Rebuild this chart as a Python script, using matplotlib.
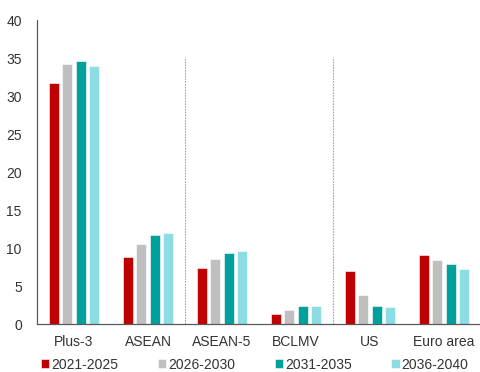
import matplotlib
matplotlib.use('Agg')
import matplotlib.pyplot as plt
import numpy as np

plt.rcParams['font.family'] = ['Liberation Sans', 'DejaVu Sans']

# data
regioes = ['Plus-3', 'ASEAN', 'ASEAN-5', 'BCLMV', 'US', 'Euro area']
periodos = ['2021-2025', '2026-2030', '2031-2035', '2036-2040']
v_2021 = [31.7, 8.8, 7.4, 1.3, 7.0, 9.1]
v_2026 = [34.2, 10.5, 8.5, 1.85, 3.8, 8.4]
v_2031 = [34.6, 11.7, 9.3, 2.35, 2.35, 7.9]
v_2036 = [33.9, 12.0, 9.6, 2.35, 2.2, 7.2]
cores = ['#C00000', '#BFBFBF', '#00A19C', '#8CDCE3']

fig = plt.figure(figsize=(4.81, 3.72), dpi=100)
ax = fig.add_axes([0.077, 0.129, 0.923, 0.817])

x = np.arange(len(regioes))
largura = 0.135
passo = 0.183
series = [v_2021, v_2026, v_2031, v_2036]
for i, (vals, cor, nome) in enumerate(zip(series, cores, periodos)):
    ax.bar(x + (i - 1.5) * passo, vals, width=largura, color=cor,
           edgecolor='white', linewidth=0.4, label=nome, zorder=2)

# separadores
for xs in [1.5, 3.5]:
    ax.plot([xs, xs], [0, 35.2], color='#A6A6A6', linestyle=(0, (1.5, 1)),
            linewidth=0.8, zorder=1)

ax.set_xlim(-0.5, 5.5)
ax.set_ylim(0, 40)
ax.set_yticks(range(0, 41, 5))
ax.set_xticks(x)
ax.set_xticklabels(regioes)
ax.tick_params(axis='both', length=0, labelsize=10, colors='#333333')
ax.tick_params(axis='x', pad=8)
ax.tick_params(axis='y', pad=11)
for s in ['top', 'right']:
    ax.spines[s].set_visible(False)
for s in ['left', 'bottom']:
    ax.spines[s].set_color('#595959')
    ax.spines[s].set_linewidth(0.9)

leg = ax.legend(loc='upper center', bbox_to_anchor=(0.49, -0.07), ncol=4,
                frameon=False, fontsize=10, handlelength=0.6, handleheight=0.6,
                handletextpad=0.15, columnspacing=2.85)
for t in leg.get_texts():
    t.set_color('#333333')

fig.savefig('out.png', dpi=100)
